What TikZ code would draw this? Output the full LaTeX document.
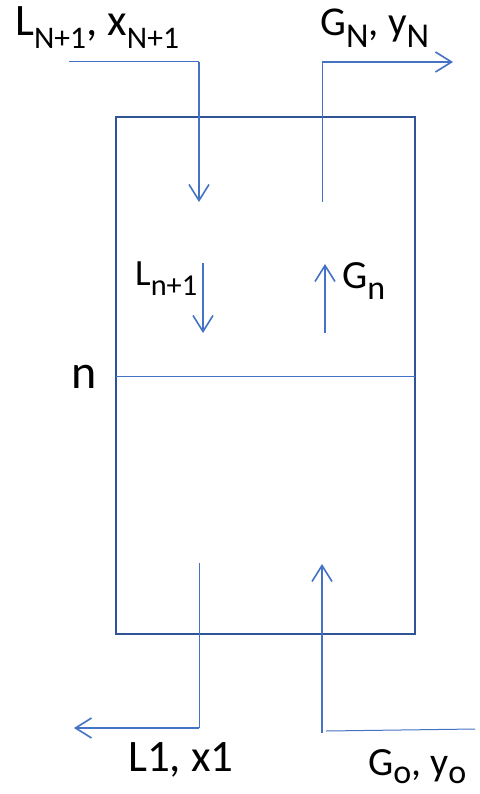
\documentclass[tikz,border=0pt]{standalone}
\usepackage{fontspec}
\setmainfont{Carlito}
\usetikzlibrary{arrows.meta}
\definecolor{boxblue}{HTML}{2F5597}
\definecolor{flowblue}{HTML}{4472C4}
\newcommand\dn[2][0.7]{\raisebox{-0.28em}{\scalebox{#1}{#2}}}
\newcommand\dnlow[2][0.85]{\raisebox{-0.2em}{\scalebox{#1}{#2}}}
\begin{document}
\begin{tikzpicture}[x=1pt,y=-1pt,
  flow/.style={draw=flowblue,line width=1.6pt},
  thinflow/.style={draw=flowblue,line width=1pt},
  tip/.style={-{Straight Barb[length=16pt,width=20pt,line width=1.6pt]}},
  lbl/.style={anchor=base west,inner sep=0pt,text=black}]
\useasboundingbox (0,0) rectangle (479,794);
\fill[white] (0,0) rectangle (479,794);
% column
\node[draw=boxblue,line width=2pt,minimum width=299pt,minimum height=517pt,inner sep=0pt] (column) at (265.5,375.5) {};
\coordinate (divL) at (116,376);
\coordinate (divR) at (415,376);
\draw[thinflow] (divL) -- (divR);
% L_{N+1} inlet
\coordinate (lnStart) at (69,62);
\coordinate (lnCorner) at (199,62);
\coordinate (lnEnd) at (199,202);
\draw[thinflow] (lnStart) -- (lnCorner);
\draw[flow,tip] (lnCorner) -- (lnEnd);
% G_N outlet
\coordinate (gnStart) at (322,202);
\coordinate (gnCorner) at (322,62);
\coordinate (gnEnd) at (453,62);
\draw[thinflow] (gnStart) -- (gnCorner);
\draw[flow,tip] (gnCorner) -- (gnEnd);
% internal arrows
\coordinate (lsA) at (203,263);
\coordinate (lsB) at (203,333);
\draw[flow,tip] (lsA) -- (lsB);
\coordinate (gsA) at (325,333);
\coordinate (gsB) at (325,264);
\draw[flow,tip] (gsA) -- (gsB);
% L1 outlet
\coordinate (l1Start) at (199,563);
\coordinate (l1Corner) at (199,728);
\coordinate (l1End) at (74,728);
\draw[thinflow] (l1Start) -- (l1Corner);
\draw[flow,tip] (l1Corner) -- (l1End);
% G_o inlet
\coordinate (goStart) at (475,729);
\coordinate (goMid) at (326,731);
\coordinate (goBottom) at (322,733);
\coordinate (goEnd) at (322,564);
\draw[thinflow] (goStart) -- (goMid);
\draw[flow,tip] (goBottom) -- (goEnd);
% labels
\node[lbl,font=\fontsize{45}{50}\selectfont] (tLN) at (15,36) {L\dn{N+1}, x\dn{N+1}};
\node[lbl,font=\fontsize{41}{46}\selectfont] (tGN) at (320,36) {G\dn[0.85]{N}, y\dn[0.85]{N}};
\node[lbl,font=\fontsize{37}{42}\selectfont] (tLn) at (135,285) {L\dn[0.82]{n+1}};
\node[lbl,font=\fontsize{40}{44}\selectfont] (tGn) at (342,288) {G\dn[0.85]{n}};
\node[lbl,font=\fontsize{48}{54}\selectfont] (tn) at (71,388) {n};
\node[lbl,font=\fontsize{45}{50}\selectfont] (tL1) at (128,771) {L1, x1};
\node[lbl,font=\fontsize{40}{45}\selectfont] (tGo) at (368,775) {G\dnlow{o}, y\dnlow{o}};
\end{tikzpicture}
\end{document}
